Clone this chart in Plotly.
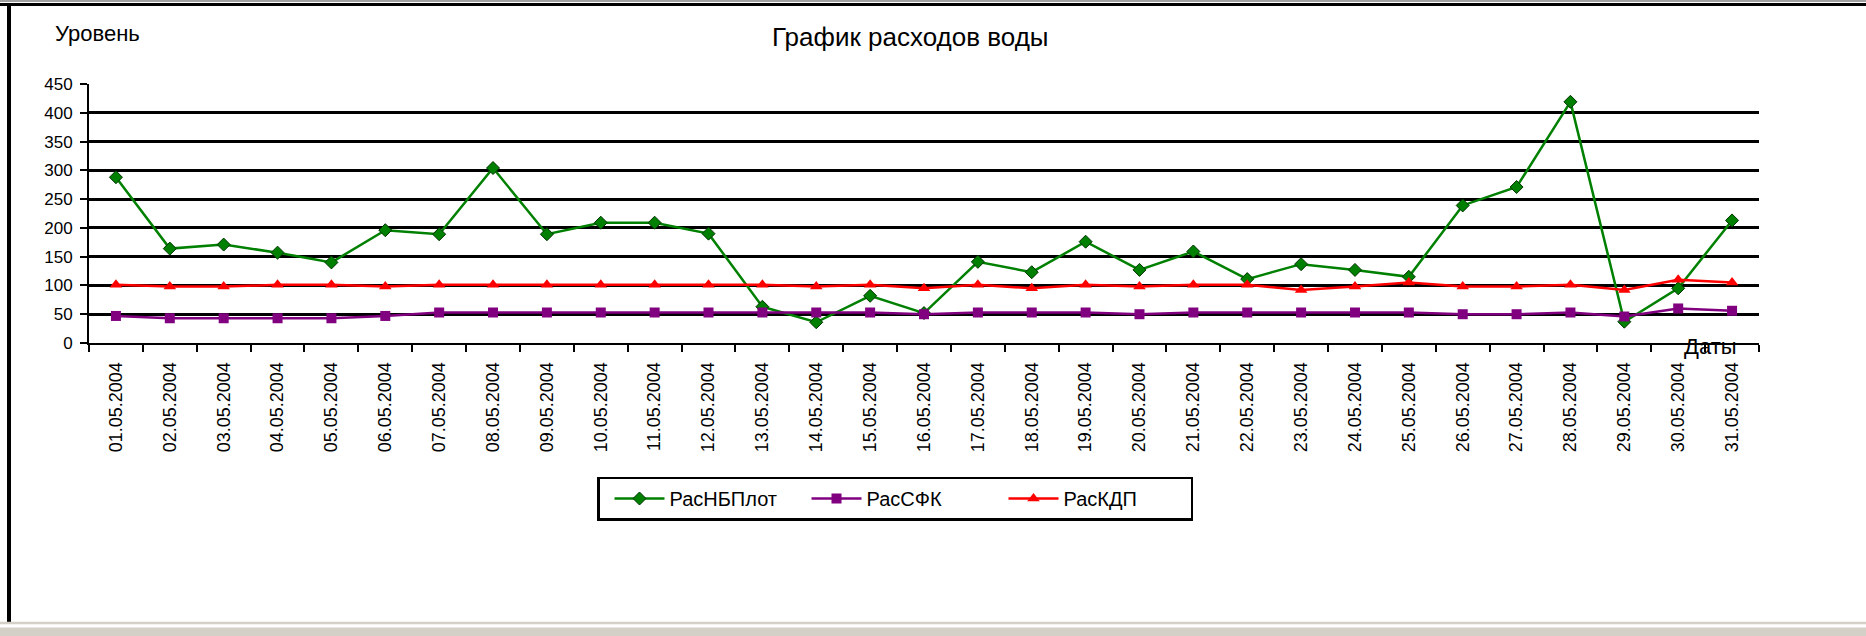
import plotly.graph_objects as go

# даты наблюдений (май 2004)
dates = [
    "01.05.2004", "02.05.2004", "03.05.2004", "04.05.2004", "05.05.2004",
    "06.05.2004", "07.05.2004", "08.05.2004", "09.05.2004", "10.05.2004",
    "11.05.2004", "12.05.2004", "13.05.2004", "14.05.2004", "15.05.2004",
    "16.05.2004", "17.05.2004", "18.05.2004", "19.05.2004", "20.05.2004",
    "21.05.2004", "22.05.2004", "23.05.2004", "24.05.2004", "25.05.2004",
    "26.05.2004", "27.05.2004", "28.05.2004", "29.05.2004", "30.05.2004",
    "31.05.2004",
]

ras_nb_plot = [288, 164, 171, 157, 140, 196, 189, 304, 189, 209, 209, 190, 63, 36, 82, 52,
               141, 123, 176, 127, 159, 111, 137, 127, 115, 239, 271, 419, 37, 95, 213]
ras_sfk = [47, 43, 43, 43, 43, 47, 53, 53, 53, 53, 53, 53, 53, 53, 53, 50,
           53, 53, 53, 50, 53, 53, 53, 53, 53, 50, 50, 53, 46, 60, 56]
ras_kdp = [101, 98, 98, 101, 101, 98, 101, 101, 101, 101, 101, 101, 101, 98, 101, 95,
           101, 95, 101, 98, 101, 101, 92, 98, 105, 98, 98, 101, 92, 110, 105]

W, H = 1866, 636
L, R, T, B = 89, 1759, 84, 343  # plot area in pixels


def px(x):
    return (x - L) / (R - L)


def py(y):
    return (B - y) / (B - T)


FONT = "Liberation Sans, Arial, sans-serif"

fig = go.Figure()
fig.add_trace(go.Scatter(
    x=dates, y=ras_nb_plot, name="РасНБПлот", mode="lines+markers",
    line=dict(color="#008000", width=2.5),
    marker=dict(symbol="diamond", size=10, color="#008000", line=dict(color="#003300", width=1)),
))
fig.add_trace(go.Scatter(
    x=dates, y=ras_sfk, name="РасСФК", mode="lines+markers",
    line=dict(color="#800080", width=2.5),
    marker=dict(symbol="square", size=10, color="#800080"),
))
fig.add_trace(go.Scatter(
    x=dates, y=ras_kdp, name="РасКДП", mode="lines+markers",
    line=dict(color="#ff0000", width=2.5),
    marker=dict(symbol="triangle-up", size=11, color="#ff0000"),
))

fig.update_layout(
    width=W, height=H,
    margin=dict(l=L, r=W - R, t=T, b=H - B, autoexpand=False),
    plot_bgcolor="white", paper_bgcolor="white",
    font=dict(family=FONT, color="black"),
    showlegend=True,
    legend=dict(
        orientation="h", x=px(597), y=py(498.5), xanchor="left", yanchor="middle",
        bordercolor="black", borderwidth=2.5, bgcolor="white",
        font=dict(size=20, family=FONT), itemwidth=50,
        entrywidth=122, entrywidthmode="pixels", indentation=10,
    ),
)

fig.update_xaxes(
    type="category", range=[-0.5, len(dates) - 0.5], tickson="boundaries",
    ticks="outside", ticklen=7, tickwidth=2, tickcolor="black",
    showline=True, linecolor="black", linewidth=2, showgrid=False,
    tickangle=-90, tickfont=dict(size=18, family=FONT), ticklabelstandoff=10,
)
fig.update_yaxes(
    range=[0, 450], dtick=50, ticks="outside", ticklen=7, tickwidth=2, tickcolor="black",
    showline=True, linewidth=2, linecolor="black", showgrid=True, gridcolor="black",
    gridwidth=2.5, zeroline=False, tickfont=dict(size=17, family=FONT), ticklabelstandoff=4,
)

# подписи
fig.add_annotation(text="График расходов воды", x=px(910), y=py(37), xref="paper", yref="paper",
                   showarrow=False, font=dict(size=26), xanchor="center", yanchor="middle")
fig.add_annotation(text="Уровень", x=px(53), y=py(34), xref="paper", yref="paper",
                   showarrow=False, font=dict(size=22), xanchor="left", yanchor="middle")
fig.add_annotation(text="Даты", x=px(1710), y=py(346), xref="paper", yref="paper",
                   showarrow=False, font=dict(size=22), xanchor="center", yanchor="middle")

# рамка окна
fig.add_shape(type="line", xref="paper", yref="paper", x0=px(0), x1=px(W), y0=py(1), y1=py(1),
              line=dict(color="#a0a0a0", width=2))
fig.add_shape(type="line", xref="paper", yref="paper", x0=px(0), x1=px(W), y0=py(4.5), y1=py(4.5),
              line=dict(color="black", width=3))
fig.add_shape(type="line", xref="paper", yref="paper", x0=px(9), x1=px(9), y0=py(3), y1=py(622),
              line=dict(color="black", width=4))
fig.add_shape(type="line", xref="paper", yref="paper", x0=px(0), x1=px(W), y0=py(623), y1=py(623),
              line=dict(color="#d4d0c8", width=2.5))
fig.add_shape(type="rect", xref="paper", yref="paper", x0=px(0), x1=px(W), y0=py(627.5), y1=py(H + 2),
              line=dict(width=0), fillcolor="#d4d0c8")

# без отступа страницы, чтобы график начинался с (0, 0)
fig.write_html("out.html", config={"displayModeBar": False},
               post_script="document.body.style.margin='0';")
